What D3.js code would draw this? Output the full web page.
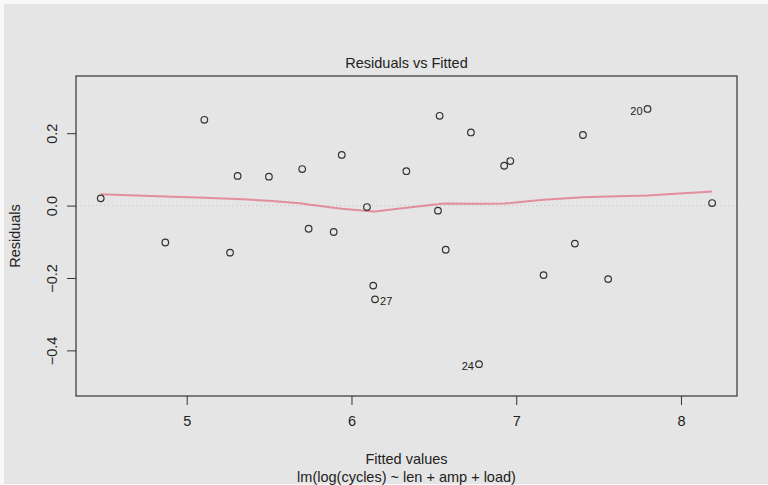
<!DOCTYPE html>
<html>
<head>
<meta charset="utf-8">
<script src="https://cdn.jsdelivr.net/npm/d3@7"></script>
<style>
  body { margin: 0; background: #f9f9f9; }
  svg text { font-family: "Liberation Sans", Arial, sans-serif; fill: #222; }
</style>
</head>
<body>
<div id="chart"></div>
<script>
// values
const fitted = [4.478, 4.870, 5.107, 5.263, 5.309, 5.499, 5.701, 5.740, 5.892, 5.941,
                6.094, 6.132, 6.143, 6.333, 6.525, 6.535, 6.572, 6.725, 6.774, 6.927,
                6.964, 7.166, 7.356, 7.405, 7.558, 7.797, 8.189];
const residuals = [0.020, -0.102, 0.237, -0.130, 0.082, 0.080, 0.101, -0.064, -0.073, 0.140,
                   -0.004, -0.221, -0.259, 0.095, -0.014, 0.248, -0.122, 0.202, -0.438, 0.110,
                   0.123, -0.192, -0.105, 0.195, -0.203, 0.267, 0.007];
const smooth = [0.031, 0.025, 0.022, 0.019, 0.018, 0.0135, 0.006, 0.003, -0.006, -0.009,
                -0.015, -0.0166, -0.0166, -0.006, 0.004, 0.005, 0.006, 0.005, 0.005, 0.006,
                0.007, 0.016, 0.022, 0.023, 0.025, 0.028, 0.039];
const pointLabels = ["", "", "", "", "", "", "", "", "", "", "", "", "27", "", "", "", "", "", "24", "",
                     "", "", "", "", "", "20", ""];
const xTicks = [5, 6, 7, 8];
const yTicks = [-0.4, -0.2, 0.0, 0.2];

function drawChart() {
    const W = 768, H = 485;
    const plot = { left: 76, right: 737, top: 76, bottom: 396 };

    const svg = d3.select("#chart").append("svg")
        .attr("width", W)
        .attr("height", H);

    // grey panel
    svg.append("rect")
        .attr("x", 4).attr("y", 4)
        .attr("width", W - 4).attr("height", H - 5)
        .attr("fill", "#e5e5e5");

    const x = d3.scaleLinear().domain([4.328, 8.340]).range([plot.left, plot.right]);
    const y = d3.scaleLinear().domain([-0.526, 0.358]).range([plot.bottom, plot.top]);

    const data = fitted.map((f, i) => ({ f, r: residuals[i], s: smooth[i], lab: pointLabels[i] }));

    // zero line
    svg.append("line")
        .attr("x1", plot.left).attr("x2", plot.right)
        .attr("y1", y(0)).attr("y2", y(0))
        .attr("stroke", "#c4c4c4")
        .attr("stroke-width", 1)
        .attr("stroke-dasharray", "1,3");

    // axes
    const xAxis = svg.append("g")
        .attr("transform", `translate(0,${plot.bottom})`)
        .call(d3.axisBottom(x).tickValues(xTicks).tickFormat(d3.format("d")).tickSize(9).tickPadding(11));
    xAxis.select(".domain").remove();
    xAxis.selectAll("line").attr("stroke", "#333");
    xAxis.selectAll("text").style("font-size", "14.5px").attr("fill", "#222");

    const yAxis = svg.append("g")
        .attr("transform", `translate(${plot.left},0)`)
        .call(d3.axisLeft(y).tickValues(yTicks).tickFormat(d3.format(".1f")).tickSize(9).tickPadding(0));
    yAxis.select(".domain").remove();
    yAxis.selectAll("line").attr("stroke", "#333");
    yAxis.selectAll("text")
        .attr("x", 0).attr("dy", 0)
        .attr("transform", "translate(-24,0) rotate(-90)")
        .attr("text-anchor", "middle")
        .attr("dominant-baseline", "central")
        .style("font-size", "14.5px")
        .attr("fill", "#222");

    // box
    svg.append("rect")
        .attr("x", plot.left).attr("y", plot.top)
        .attr("width", plot.right - plot.left).attr("height", plot.bottom - plot.top)
        .attr("fill", "none")
        .attr("stroke", "#333")
        .attr("stroke-width", 1.2);

    // smoother
    const line = d3.line().x(d => x(d.f)).y(d => y(d.s));
    svg.append("path")
        .datum(data)
        .attr("d", line)
        .attr("fill", "none")
        .attr("stroke", "#DF536B")
        .attr("stroke-opacity", 0.6)
        .attr("stroke-width", 2);

    // points
    svg.selectAll("circle.pt")
        .data(data)
        .join("circle")
        .attr("class", "pt")
        .attr("cx", d => x(d.f))
        .attr("cy", d => y(d.r))
        .attr("r", 3.3)
        .attr("fill", "none")
        .attr("stroke", "#333")
        .attr("stroke-width", 1.2);

    // labels of the extreme points
    const mid = (x.domain()[0] + x.domain()[1]) / 2;
    svg.selectAll("text.lab")
        .data(data.filter(d => d.lab))
        .join("text")
        .attr("class", "lab")
        .attr("x", d => d.f > mid ? x(d.f) - 5 : x(d.f) + 5)
        .attr("y", d => y(d.r) + 2)
        .attr("text-anchor", d => d.f > mid ? "end" : "start")
        .attr("dominant-baseline", "central")
        .style("font-size", "11px")
        .text(d => d.lab);

    const cx = (plot.left + plot.right) / 2;

    svg.append("text")
        .attr("x", cx).attr("y", 68)
        .attr("text-anchor", "middle")
        .style("font-size", "14.5px")
        .text("Residuals vs Fitted");

    svg.append("text")
        .attr("x", cx).attr("y", 464)
        .attr("text-anchor", "middle")
        .style("font-size", "14.5px")
        .text("Fitted values");

    svg.append("text")
        .attr("x", cx).attr("y", 482)
        .attr("text-anchor", "middle")
        .style("font-size", "14.5px")
        .text("lm(log(cycles) ~ len + amp + load)");

    svg.append("text")
        .attr("transform", `translate(20,${(plot.top + plot.bottom) / 2}) rotate(-90)`)
        .attr("text-anchor", "middle")
        .style("font-size", "14.5px")
        .text("Residuals");
}

drawChart();
</script>
</body>
</html>
